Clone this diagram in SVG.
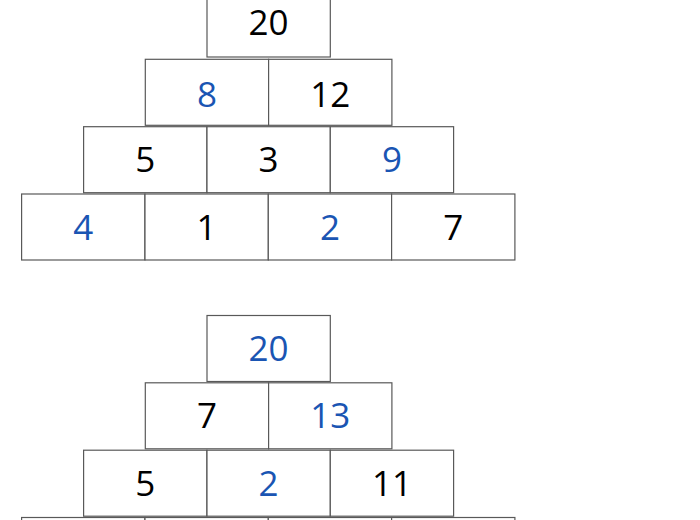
<svg xmlns="http://www.w3.org/2000/svg" width="700" height="520" viewBox="0 0 700 520">
<style>
.box{fill:#fff;stroke:#595959;stroke-width:1.2}
.t{font-family:"Open Sans","Noto Sans",sans-serif;font-size:35px;text-anchor:middle}
.k{fill:#000}
.b{fill:#1a55b3}
</style>
<rect width="700" height="520" fill="#fff"/>
<g id="pyramid1">
<g id="p1-r1c1"><rect class="box" x="207" y="-10" width="123.3" height="67"/><text class="t k" x="268.6" y="35">20</text></g>
<g id="p1-r2c1"><rect class="box" x="145.3" y="59.3" width="123.3" height="66"/><text class="t b" x="206.9" y="106.8">8</text></g>
<g id="p1-r2c2"><rect class="box" x="268.6" y="59.3" width="123.3" height="66"/><text class="t k" x="330.2" y="106.8">12</text></g>
<g id="p1-r3c1"><rect class="box" x="83.6" y="126.7" width="123.3" height="66"/><text class="t k" x="145.3" y="172.2">5</text></g>
<g id="p1-r3c2"><rect class="box" x="207" y="126.7" width="123.3" height="66"/><text class="t k" x="268.6" y="172.2">3</text></g>
<g id="p1-r3c3"><rect class="box" x="330.3" y="126.7" width="123.3" height="66"/><text class="t b" x="391.9" y="172.2">9</text></g>
<g id="p1-r4c1"><rect class="box" x="21.6" y="194" width="123.3" height="66"/><text class="t b" x="83.3" y="239.5">4</text></g>
<g id="p1-r4c2"><rect class="box" x="145" y="194" width="123.3" height="66"/><text class="t k" x="206.6" y="239.5">1</text></g>
<g id="p1-r4c3"><rect class="box" x="268.3" y="194" width="123.3" height="66"/><text class="t b" x="329.9" y="239.5">2</text></g>
<g id="p1-r4c4"><rect class="box" x="391.6" y="194" width="123.3" height="66"/><text class="t k" x="453.3" y="239.5">7</text></g>
</g>
<g id="pyramid2">
<g id="p2-r1c1"><rect class="box" x="207" y="315.5" width="123.3" height="66"/><text class="t b" x="268.6" y="361">20</text></g>
<g id="p2-r2c1"><rect class="box" x="145.3" y="382.8" width="123.3" height="66"/><text class="t k" x="206.9" y="428.3">7</text></g>
<g id="p2-r2c2"><rect class="box" x="268.6" y="382.8" width="123.3" height="66"/><text class="t b" x="330.2" y="428.3">13</text></g>
<g id="p2-r3c1"><rect class="box" x="83.6" y="450.2" width="123.3" height="66"/><text class="t k" x="145.3" y="495.7">5</text></g>
<g id="p2-r3c2"><rect class="box" x="207" y="450.2" width="123.3" height="66"/><text class="t b" x="268.6" y="495.7">2</text></g>
<g id="p2-r3c3"><rect class="box" x="330.3" y="450.2" width="123.3" height="66"/><text class="t k" x="391.9" y="495.7">11</text></g>
<g id="p2-r4c1"><rect class="box" x="21.6" y="517.5" width="123.3" height="66"/></g>
<g id="p2-r4c2"><rect class="box" x="145" y="517.5" width="123.3" height="66"/></g>
<g id="p2-r4c3"><rect class="box" x="268.3" y="517.5" width="123.3" height="66"/></g>
<g id="p2-r4c4"><rect class="box" x="391.6" y="517.5" width="123.3" height="66"/></g>
</g>
<g id="connectors"/>
</svg>
